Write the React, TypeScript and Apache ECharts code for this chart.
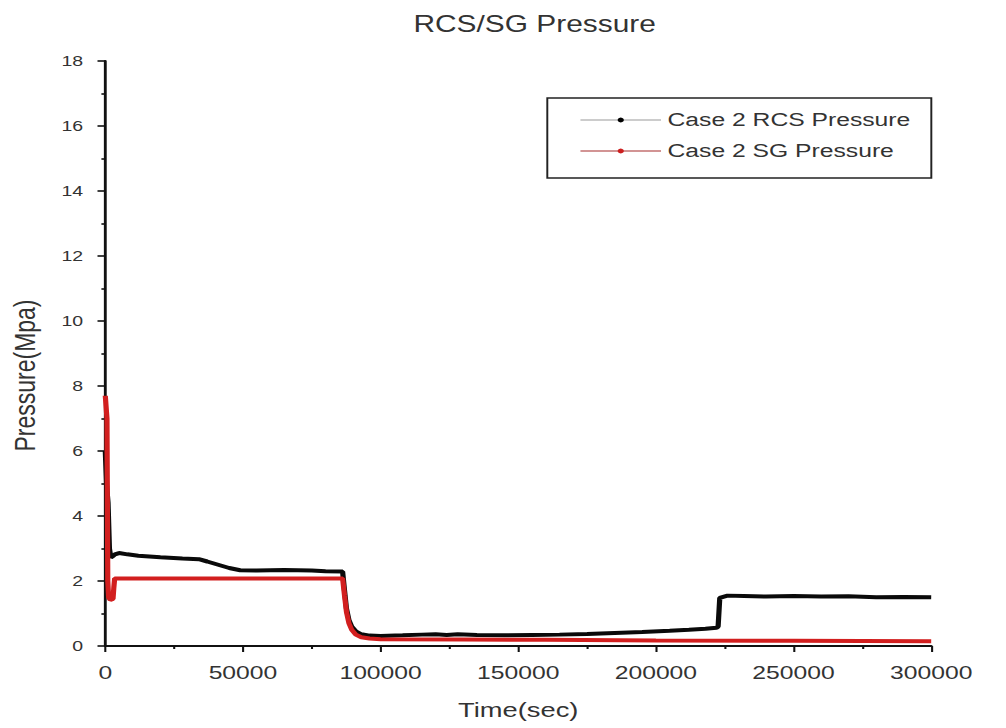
import React, { useEffect, useRef } from "react";
import * as echarts from "echarts";

// Case 2 primary-side (RCS) pressure, MPa, against time in seconds
const rcsTime = [
  0, 500, 1000, 1500, 2000, 2500, 3500, 5000, 8000, 12000, 20000, 28000, 34000,
  37000, 41000, 45000, 49000, 55000, 60000, 65000, 70000, 75000, 80000, 86200,
  86900, 87600, 88500, 89500, 91000, 93000, 96000, 100000, 108000, 115000,
  120000, 124000, 128000, 135000, 145000, 155000, 165000, 175000, 185000,
  195000, 205000, 212000, 218000, 222000, 222600, 223200, 226000, 232000,
  240000, 250000, 260000, 270000, 280000, 290000, 300000,
];
const rcsValue = [
  6.0, 4.9, 4.4, 3.0, 2.72, 2.75, 2.82, 2.86, 2.82, 2.78, 2.73, 2.69, 2.67,
  2.6, 2.5, 2.4, 2.33, 2.32, 2.33, 2.34, 2.33, 2.32, 2.3, 2.29, 1.7, 1.15, 0.8,
  0.6, 0.45, 0.36, 0.32, 0.31, 0.33, 0.35, 0.36, 0.34, 0.36, 0.34, 0.33, 0.34,
  0.35, 0.37, 0.4, 0.43, 0.47, 0.5, 0.53, 0.56, 0.6, 1.48, 1.55, 1.54, 1.52,
  1.54, 1.52, 1.53, 1.5, 1.51, 1.5,
];

// Case 2 secondary-side (SG) pressure, MPa, against time in seconds
const sgTime = [
  0, 600, 900, 1200, 1800, 2800, 3100, 3400, 10000, 30000, 60000, 86200, 86900,
  87600, 88500, 89500, 91000, 93000, 96000, 100000, 130000, 160000, 200000,
  250000, 300000,
];
const sgValue = [
  7.7, 7.0, 2.0, 1.5, 1.42, 1.45, 1.8, 2.08, 2.08, 2.08, 2.08, 2.08, 1.55,
  1.05, 0.7, 0.5, 0.35, 0.27, 0.23, 0.21, 0.2, 0.19, 0.17, 0.16, 0.15,
];

const seriesNames = ["Case 2 RCS Pressure", "Case 2 SG Pressure"];
const xTicks = { min: 0, max: 300000, step: 50000 };
const yTicks = { min: 0, max: 18, step: 2 };

// The plot is laid out on a narrower canvas and widened with a horizontal scale
const STRETCH = 1.3;
const PAGE_W = 1006;
const PAGE_H = 728;
const CHART_W = PAGE_W / STRETCH;

const FONT = "'Liberation Sans', Arial, Helvetica, sans-serif";
const TEXT = "#333";
const AXIS = "#111";

const pairs = (t: number[], v: number[]) => t.map((x, i) => [x, v[i]]);

export default function App() {
  const ref = useRef<HTMLDivElement>(null);

  useEffect(() => {
    if (!ref.current) return;
    const chart = echarts.init(ref.current, null, { renderer: "svg" });
    const axisCommon = {
      type: "value" as const,
      splitLine: { show: false },
      axisLine: { show: true, lineStyle: { color: AXIS, width: 2.2 } },
      axisTick: { show: true, inside: false, length: 6, lineStyle: { color: AXIS, width: 1.6 } },
      minorTick: { show: true, splitNumber: 2, length: 3, lineStyle: { color: AXIS, width: 1.6 } },
    };
    chart.setOption({
      animation: false,
      backgroundColor: "#fff",
      title: {
        text: "RCS/SG Pressure",
        left: 318,
        top: 13,
        padding: 0,
        textStyle: { fontFamily: FONT, fontSize: 23, fontWeight: "normal", color: TEXT },
      },
      legend: {
        orient: "vertical",
        left: 421,
        top: 98,
        padding: [12, 16, 17, 25],
        itemGap: 11,
        itemWidth: 62,
        itemHeight: 6,
        selectedMode: false,
        borderColor: "#222",
        borderWidth: 1.5,
        borderRadius: 0,
        textStyle: { fontFamily: FONT, fontSize: 19, color: TEXT, lineHeight: 20 },
        data: [
          { name: seriesNames[0], lineStyle: { color: "#9a9a9a", width: 1 }, itemStyle: { color: "#000" } },
          { name: seriesNames[1], lineStyle: { color: "#a52a2a", width: 1 }, itemStyle: { color: "#cc1f1f" } },
        ],
      },
      grid: { left: 80, right: CHART_W - 931 / STRETCH, top: 61, bottom: 82, containLabel: false },
      xAxis: {
        ...axisCommon,
        min: xTicks.min,
        max: xTicks.max,
        interval: xTicks.step,
        name: "Time(sec)",
        nameLocation: "middle",
        nameGap: 53,
        nameTextStyle: { fontFamily: FONT, fontSize: 21, color: TEXT },
        axisLabel: {
          fontFamily: FONT,
          fontSize: 19,
          color: TEXT,
          margin: 17,
          formatter: (v: number) => String(v),
        },
      },
      yAxis: {
        ...axisCommon,
        min: yTicks.min,
        max: yTicks.max,
        interval: yTicks.step,
        name: "Pressure(Mpa)",
        nameLocation: "middle",
        nameGap: 50,
        nameTextStyle: { fontFamily: FONT, fontSize: 23, color: TEXT, padding: [0, 44, 0, 0] },
        axisLabel: {
          fontFamily: FONT,
          fontSize: 15,
          color: TEXT,
          margin: 17,
          formatter: (v: number) => String(v),
        },
      },
      series: [
        {
          name: seriesNames[0],
          type: "line",
          data: pairs(rcsTime, rcsValue),
          showSymbol: false,
          symbol: "circle",
          lineStyle: { color: "#0a0a0a", width: 4 },
          itemStyle: { color: "#000" },
          z: 2,
        },
        {
          name: seriesNames[1],
          type: "line",
          data: pairs(sgTime, sgValue),
          showSymbol: false,
          symbol: "circle",
          lineStyle: { color: "#d21f1f", width: 4 },
          itemStyle: { color: "#cc1f1f" },
          z: 3,
        },
      ],
    });
    return () => chart.dispose();
  }, []);

  return (
    <div
      style={{
        position: "fixed",
        left: 0,
        top: 0,
        width: PAGE_W,
        height: PAGE_H,
        background: "#fff",
        overflow: "hidden",
      }}
    >
      <div
        ref={ref}
        style={{
          width: CHART_W,
          height: PAGE_H,
          transform: `scaleX(${STRETCH})`,
          transformOrigin: "0 0",
        }}
      />
    </div>
  );
}
